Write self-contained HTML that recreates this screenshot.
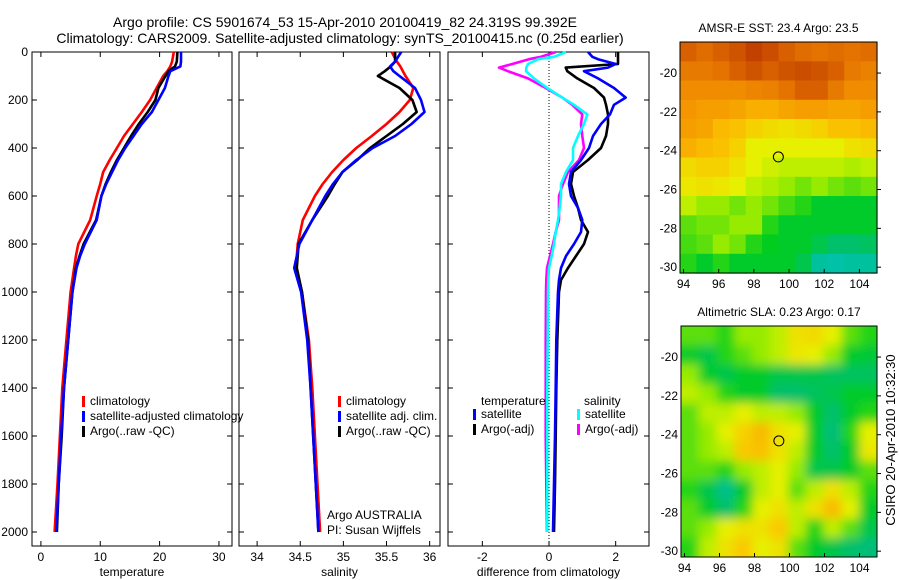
<!DOCTYPE html>
<html><head><meta charset="utf-8"><style>
body{margin:0;background:#fff;}
svg{display:block;font-family:"Liberation Sans",sans-serif;}
</style></head><body>
<svg id="fig" width="900" height="580" viewBox="0 0 900 580" xmlns="http://www.w3.org/2000/svg">
<text x="345" y="27" font-size="14" text-anchor="middle">Argo profile: CS 5901674_53 15-Apr-2010 20100419_82 24.319S 99.392E</text>
<text x="340" y="43" font-size="14" text-anchor="middle">Climatology: CARS2009. Satellite-adjusted climatology: synTS_20100415.nc (0.25d earlier)</text>
<g id="p1"></g>
<g id="p2"></g>
<g id="p3"></g>
<g id="m1"></g>
<g id="m2"></g>
<text transform="translate(895,440) rotate(-90)" font-size="13" text-anchor="middle">CSIRO 20-Apr-2010 10:32:30</text>
</svg>
<script>
// ---- profile data (depth in m) ----
const depthsShallow = [0,40,60,80,100,150,200,250,300,350,400,450,500,550,600,700,800,850,900,1000,1200,1400,1600,1800,2000];
const tempClim =  [22.4,22.1,21.8,21.3,20.6,19.5,18.4,17.0,15.5,14.0,12.8,11.6,10.5,10.0,9.4,8.3,6.3,5.9,5.6,5.0,4.3,3.6,3.2,2.8,2.3];
const tempSat =   [23.6,23.6,23.5,21.8,21.5,20.9,19.8,18.7,17.0,15.6,14.2,13.0,12.0,11.0,10.2,9.4,7.4,6.6,6.0,5.3,4.6,3.9,3.4,3.0,2.6];
const tempArgo =  [23.0,22.9,22.6,21.5,21.0,19.8,19.3,18.0,16.5,15.2,14.0,12.8,11.8,10.9,10.2,9.3,7.2,6.5,5.9,5.3,4.6,3.9,3.5,3.0,2.7];
const salClim =   [35.56,35.62,35.66,35.69,35.72,35.81,35.77,35.65,35.50,35.33,35.15,35.00,34.87,34.76,34.67,34.53,34.47,34.46,34.45,34.52,34.60,34.64,34.67,34.70,34.73];
const salSat =    [35.67,35.60,35.54,35.58,35.65,35.83,35.90,35.94,35.79,35.60,35.34,35.15,34.99,34.88,34.79,34.64,34.49,34.46,34.43,34.51,34.58,34.62,34.65,34.68,34.71];
const salArgo =   [35.60,35.60,35.55,35.48,35.40,35.65,35.80,35.85,35.69,35.50,35.31,35.16,34.99,34.90,34.82,34.64,34.48,34.47,34.46,34.52,34.59,34.62,34.65,34.68,34.71];
const depthsDiff = [0,20,30,50,65,80,110,150,190,220,260,300,350,400,450,500,550,600,650,700,750,800,850,900,950,1000,1200,1400,1600,1800,2000];
const dTempSat =  [1.17,1.3,1.47,2.0,1.77,1.05,1.47,1.95,2.3,1.95,1.83,1.56,1.32,1.2,0.96,0.66,0.6,0.66,0.87,1.0,0.96,0.75,0.51,0.36,0.3,0.27,0.22,0.2,0.18,0.15,0.12];
const dTempArgo = [2.07,2.07,2.07,2.07,0.5,0.55,0.85,1.35,1.65,1.71,1.77,1.77,1.71,1.56,1.17,0.72,0.66,0.75,0.87,0.96,1.17,1.05,0.81,0.57,0.36,0.3,0.25,0.22,0.2,0.18,0.15];
const dSalSat =   [0.51,0.15,-0.33,-0.63,-0.68,-0.69,-0.45,-0.05,0.4,0.75,1.15,1.05,0.87,0.72,0.72,0.51,0.36,0.36,0.32,0.27,0.2,0.15,0.08,0.0,-0.02,-0.03,-0.04,-0.05,-0.05,-0.05,-0.05];
const dSalArgo =  [0.21,-0.24,-0.6,-1.1,-1.5,-1.23,-0.63,-0.1,0.4,0.7,1.0,0.96,1.0,1.05,0.9,0.57,0.42,0.3,0.3,0.3,0.2,0.12,0.03,-0.06,-0.08,-0.09,-0.1,-0.1,-0.1,-0.08,-0.06];
const depthTicks = [0,200,400,600,800,1000,1200,1400,1600,1800,2000];
const tempTicks = [0,10,20,30];
const salTicks = [34,34.5,35,35.5,36];
const salTickLabels = ["34","34.5","35","35.5","36"];
const diffTicks = [-2,0,2];
// ---- map data (rows north->south) ----
const sstGrid = [
[.95,.93,.95,.97,1,.98,.95,.93,.92,.93,.92,.93],
[.9,.9,.92,.95,.97,.95,.97,.98,.97,.95,.9,.88],
[.85,.85,.85,.85,.87,.88,.92,.95,.95,.9,.85,.85],
[.82,.8,.8,.78,.75,.75,.78,.8,.8,.78,.78,.8],
[.8,.78,.72,.7,.65,.62,.6,.62,.65,.7,.7,.72],
[.75,.72,.7,.65,.55,.55,.55,.55,.55,.55,.6,.62],
[.62,.65,.65,.6,.55,.52,.5,.5,.5,.5,.48,.5],
[.58,.6,.58,.55,.5,.48,.45,.42,.45,.42,.4,.42],
[.5,.45,.45,.42,.45,.42,.38,.35,.3,.3,.3,.3],
[.4,.42,.42,.45,.45,.35,.3,.3,.3,.3,.3,.3],
[.38,.4,.45,.42,.35,.32,.3,.3,.25,.2,.2,.22],
[.35,.3,.35,.3,.3,.3,.3,.25,.12,.1,.12,.12]];
const slaGrid = [
[.4,.4,.35,.45,.45,.5,.6,.62,.55,.4,.35],
[.3,.25,.35,.4,.45,.5,.58,.55,.45,.3,.28],
[.45,.3,.25,.3,.3,.25,.25,.25,.22,.22,.22],
[.5,.45,.35,.3,.3,.2,.2,.22,.25,.3,.3],
[.4,.5,.5,.55,.5,.5,.45,.3,.2,.3,.35],
[.4,.45,.55,.65,.72,.6,.55,.3,.18,.35,.55],
[.4,.45,.5,.68,.7,.6,.5,.3,.2,.3,.58],
[.4,.4,.35,.45,.5,.55,.45,.25,.25,.3,.4],
[.35,.25,.15,.3,.5,.55,.4,.5,.6,.5,.35],
[.4,.3,.2,.35,.55,.6,.5,.6,.72,.55,.3],
[.4,.45,.55,.6,.6,.68,.5,.35,.5,.4,.25],
[.35,.5,.6,.68,.55,.6,.4,.3,.25,.2,.18]];
const lonTicks = [94,96,98,100,102,104];
const latTicks = [-20,-22,-24,-26,-28,-30];
const argoLon = 99.392, argoLat = -24.319;

const NS="http://www.w3.org/2000/svg";
function mk(parent,tag,attrs){const e=document.createElementNS(NS,tag);for(const k in attrs)e.setAttribute(k,attrs[k]);parent.appendChild(e);return e;}
const Y0=52, YS=0.24, BOT=546;
const yD=d=>Y0+d*YS;

function panel(g,x0,x1,xmin,xmax,ticks,labels,xlabel,leftLabels,zeroLine){
  const xs=v=>x0+(v-xmin)/(xmax-xmin)*(x1-x0);
  const r=mk(g,'rect',{x:x0,y:Y0,width:x1-x0,height:BOT-Y0,fill:'none',stroke:'#000','stroke-width':1});
  
  
  ticks.forEach((t,i)=>{
    const x=xs(t);
    mk(g,'line',{x1:x,x2:x,y1:BOT,y2:BOT-5,stroke:'#000'});
    mk(g,'line',{x1:x,x2:x,y1:Y0,y2:Y0+5,stroke:'#000'});
    const tx=mk(g,'text',{x:x,y:BOT+15,'font-size':12,'text-anchor':'middle'});
    tx.textContent=labels[i];
    
    
  });
  depthTicks.forEach(d=>{
    const y=yD(d);
    mk(g,'line',{x1:x0,x2:x0+5,y1:y,y2:y,stroke:'#000'});
    mk(g,'line',{x1:x1,x2:x1-5,y1:y,y2:y,stroke:'#000'});
    if(leftLabels){
      const tx=mk(g,'text',{x:x0-4,y:y+4,'font-size':12,'text-anchor':'end'});
      tx.textContent=d;
      
      
    }
  });
  const xl=mk(g,'text',{x:(x0+x1)/2,y:BOT+30,'font-size':12,'text-anchor':'middle'});
  xl.textContent=xlabel;
  
  
  if(zeroLine){
    const z=mk(g,'line',{x1:xs(0),x2:xs(0),y1:Y0,y2:BOT,stroke:'#000','stroke-dasharray':'1,2'});
    
    
  }
  return xs;
}
function series(g,xs,depths,vals,color,name){
  const pts=vals.map((v,i)=>xs(v).toFixed(1)+','+yD(depths[i]).toFixed(1)).join(' ');
  const p=mk(g,'polyline',{points:pts,fill:'none',stroke:color,'stroke-width':2.6,'stroke-linejoin':'round'});
  
  
}
function legend(g,x,y,color,label){
  mk(g,'rect',{x:x,y:y-9,width:3,height:11,fill:color});
  const t=mk(g,'text',{x:x+8,y:y,'font-size':12});
  t.textContent=label;
  
  
}
const p1=document.getElementById('p1');
const xs1=panel(p1,32,232,-1.5,32.2,tempTicks,tempTicks.map(String),'temperature',true,false);
series(p1,xs1,depthsShallow,tempClim,'#f00','temp-climatology-line');
series(p1,xs1,depthsShallow,tempArgo,'#000','temp-argo-line');
series(p1,xs1,depthsShallow,tempSat,'#00f','temp-satellite-line');
legend(p1,82,405,'#f00','climatology');
legend(p1,82,420,'#00f','satellite-adjusted climatology');
legend(p1,82,435,'#000','Argo(..raw -QC)');
const p2=document.getElementById('p2');
const xs2=panel(p2,239,440,33.79,36.12,salTicks,salTickLabels,'salinity',false,false);
series(p2,xs2,depthsShallow,salClim,'#f00','sal-climatology-line');
series(p2,xs2,depthsShallow,salArgo,'#000','sal-argo-line');
series(p2,xs2,depthsShallow,salSat,'#00f','sal-satellite-line');
legend(p2,338,405,'#f00','climatology');
legend(p2,338,420,'#00f','satellite adj. clim.');
legend(p2,338,435,'#000','Argo(..raw -QC)');
const n1=mk(p2,'text',{x:327,y:519,'font-size':12});n1.textContent='Argo AUSTRALIA';


const n2=mk(p2,'text',{x:327,y:534,'font-size':12});n2.textContent='PI: Susan Wijffels';


const p3=document.getElementById('p3');
const xs3=panel(p3,448,649,-3.03,3.0,diffTicks,diffTicks.map(String),'difference from climatology',false,true);
series(p3,xs3,depthsDiff,dSalArgo,'#f0f','diff-sal-argo-line');
series(p3,xs3,depthsDiff,dTempArgo,'#000','diff-temp-argo-line');
series(p3,xs3,depthsDiff,dSalSat,'#0ff','diff-sal-satellite-line');
series(p3,xs3,depthsDiff,dTempSat,'#00f','diff-temp-satellite-line');
const lt=mk(p3,'text',{x:481,y:405,'font-size':12});lt.textContent='temperature';


const ls=mk(p3,'text',{x:584,y:405,'font-size':12});ls.textContent='salinity';


legend(p3,473,418,'#00f','satellite');
legend(p3,473,433,'#000','Argo(-adj)');
legend(p3,577,418,'#0ff','satellite');
legend(p3,577,433,'#f0f','Argo(-adj)');

// ---- maps ----
function cmap(v){
  const stops=[[0,[0,200,230]],[0.18,[0,190,120]],[0.32,[0,205,30]],[0.45,[150,235,0]],[0.55,[230,240,0]],[0.68,[250,200,0]],[0.82,[245,150,0]],[0.92,[228,115,0]],[1,[195,65,0]]];
  for(let i=1;i<stops.length;i++){if(v<=stops[i][0]){const a=stops[i-1],b=stops[i],t=(v-a[0])/(b[0]-a[0]);
    return 'rgb('+a[1].map((c,k)=>Math.round(c+(b[1][k]-c)*t)).join(',')+')';}}
  return 'rgb(195,65,0)';
}
function map(id,x0,y0,x1,y1,grid,title,blur){
  const g=document.getElementById(id);
  const lonMin=93.8,lonMax=105.0,latMax=-18.4,latMin=-30.3;
  const xm=l=>x0+(l-lonMin)/(lonMax-lonMin)*(x1-x0);
  const ym=l=>y0+(latMax-l)/(latMax-latMin)*(y1-y0);
  const tt=mk(g,'text',{x:(x0+x1)/2,y:y0-10,'font-size':12,'text-anchor':'middle'});tt.textContent=title;
  
  
  const cg=mk(g,'g',{});
  if(blur){const f=mk(g,'filter',{id:id+'b',x:'-5%',y:'-5%',width:'110%',height:'110%'});mk(f,'feGaussianBlur',{stdDeviation:5});
    const cp=mk(g,'clipPath',{id:id+'c'});mk(cp,'rect',{x:x0,y:y0,width:x1-x0,height:y1-y0});
    cg.setAttribute('clip-path','url(#'+id+'c)');}
  const inner=mk(cg,'g',blur?{filter:'url(#'+id+'b)'}:{});
  const rows=grid.length,cols=grid[0].length,cw=(x1-x0)/cols,ch=(y1-y0)/rows;
  grid.forEach((row,r)=>row.forEach((v,c)=>{
    const e=mk(inner,'rect',{x:(x0+c*cw-(blur&&c==0?10:0)).toFixed(1),y:(y0+r*ch-(blur&&r==0?10:0)).toFixed(1),width:(cw+0.6+(blur&&(c==0||c==cols-1)?10:0)).toFixed(1),height:(ch+0.6+(blur&&(r==0||r==rows-1)?10:0)).toFixed(1),fill:cmap(v)});
    
    
  }));
  mk(g,'rect',{x:x0,y:y0,width:x1-x0,height:y1-y0,fill:'none',stroke:'#000'});
  lonTicks.forEach(l=>{const x=xm(l);mk(g,'line',{x1:x,x2:x,y1:y1,y2:y1-4,stroke:'#000'});
    const t=mk(g,'text',{x:x,y:y1+15,'font-size':12,'text-anchor':'middle'});t.textContent=l;
    
    });
  latTicks.forEach(l=>{const y=ym(l);mk(g,'line',{x1:x1,x2:x1+4,y1:y,y2:y,stroke:'#000'});
    const t=mk(g,'text',{x:x0-3,y:y+4,'font-size':12,'text-anchor':'end'});t.textContent=l;
    
    });
  const c=mk(g,'circle',{cx:xm(argoLon),cy:ym(argoLat),r:5,fill:'none',stroke:'#000','stroke-width':1});
  
  
}
map('m1',680,42,877,273,sstGrid,'AMSR-E SST: 23.4  Argo: 23.5',false);
map('m2',681,326,877,557,slaGrid,'Altimetric SLA: 0.23  Argo: 0.17',true);
</script>
</body></html>
